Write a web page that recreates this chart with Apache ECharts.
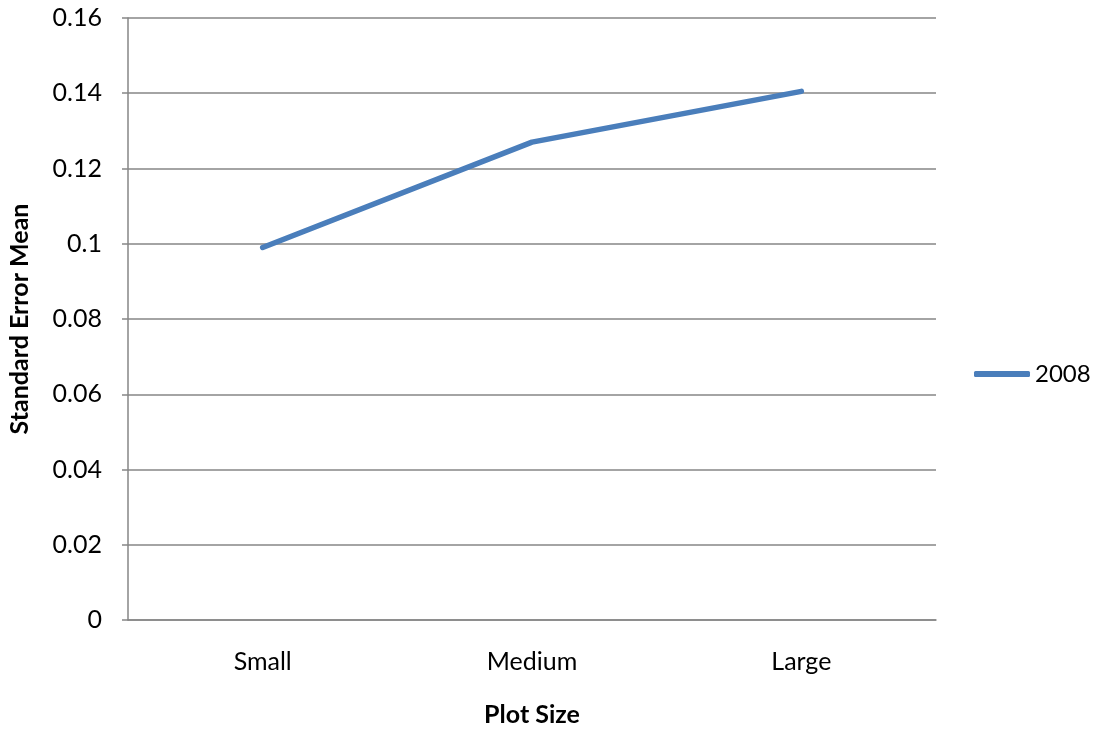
<!DOCTYPE html>
<html>
<head>
<meta charset="utf-8">
<script src="https://cdn.jsdelivr.net/npm/echarts@6/dist/echarts.min.js"></script>
<style>html,body{margin:0;padding:0;background:#fff}#c{width:1094px;height:732px}</style>
</head>
<body>
<div id="c"></div>
<script>
const categories = ['Small', 'Medium', 'Large'];
const seriesName = '2008';
const values = [0.099, 0.127, 0.1405];
const yTicks = { min: 0, max: 0.16, interval: 0.02 };

const font = 'Lato, "Open Sans", "Noto Sans", sans-serif';
const chart = echarts.init(document.getElementById('c'));
chart.setOption({
  animation: false,
  textStyle: { fontFamily: font },
  grid: { left: 128, right: 158, top: 18, bottom: 112, containLabel: false, outerBoundsMode: 'none' },
  legend: {
    data: [{ name: seriesName, icon: 'roundRect' }],
    left: 974, top: 362, padding: 0,
    itemWidth: 56, itemHeight: 6,
    textStyle: { fontSize: 24, color: '#000', fontFamily: font }
  },
  xAxis: {
    type: 'category', data: categories, boundaryGap: true,
    name: 'Plot Size', nameLocation: 'middle', nameGap: 82,
    nameTextStyle: { fontSize: 25, fontWeight: 'bold', color: '#000', fontFamily: font },
    axisLine: { lineStyle: { color: '#868686', width: 1.5 } },
    axisTick: { show: false },
    axisLabel: { fontSize: 25, color: '#000', margin: 29, fontFamily: font }
  },
  yAxis: {
    type: 'value', min: yTicks.min, max: yTicks.max, interval: yTicks.interval,
    name: 'Standard Error Mean', nameLocation: 'middle', nameGap: 96,
    nameTextStyle: { fontSize: 25, fontWeight: 'bold', color: '#000', fontFamily: font },
    axisLine: { show: true, lineStyle: { color: '#868686', width: 1.5 } },
    axisTick: { show: true, length: 6, lineStyle: { color: '#868686', width: 1.5 } },
    splitLine: { lineStyle: { color: '#868686', width: 1.5 } },
    axisLabel: { fontSize: 25, color: '#000', margin: 26, fontFamily: font,
      formatter: v => String(+v.toFixed(2)) }
  },
  series: [{
    name: seriesName, type: 'line', data: values,
    showSymbol: false, symbol: 'none',
    lineStyle: { color: '#4a7ebb', width: 5.5, cap: 'round', join: 'round' },
    itemStyle: { color: '#4a7ebb' }
  }]
});
</script>
</body>
</html>
